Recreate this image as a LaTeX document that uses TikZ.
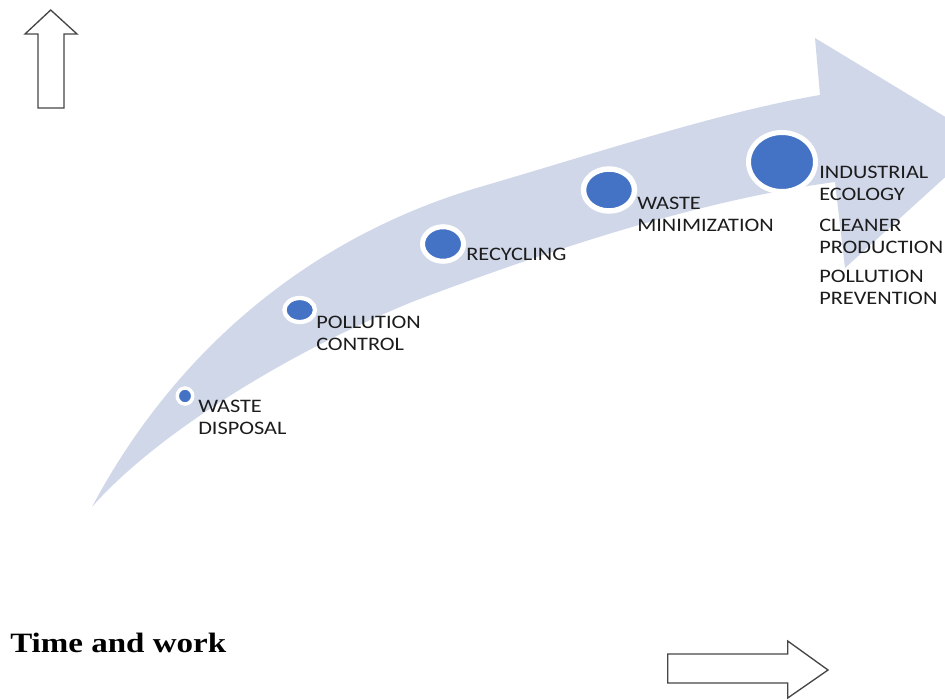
\documentclass[tikz,border=0pt]{standalone}
\usepackage{fontspec}
\usetikzlibrary{shapes.geometric}
\newfontfamily\labfont[FakeStretch=1.17]{Carlito}
\newfontfamily\titlefont[FakeStretch=1.18]{Liberation Serif}
\definecolor{band}{RGB}{208,215,233}
\definecolor{dotblue}{RGB}{68,114,196}
\definecolor{labtext}{RGB}{28,28,28}
\definecolor{outline}{RGB}{70,70,70}
\begin{document}
\begin{tikzpicture}[x=0.75pt,y=-0.75pt,
  dot/.style={ellipse, fill=dotblue, draw=white, inner sep=0pt},
  lab/.style={anchor=north west, inner sep=0pt, align=left, text=labtext,
              font=\labfont\fontsize{14.3}{16.5}\selectfont},
  hollow/.style={draw=outline, line width=1pt, fill=white, line join=miter}]
\useasboundingbox (0,0) rectangle (945,699);
\fill[white] (0,0) rectangle (945,699);
\begin{scope}
\clip (0,0) rectangle (945,699);
\fill[band] (92,507) .. controls (170,360) and (300,240) .. (480,187)
  .. controls (600,152) and (720,112) .. (820,95)
  -- (815,38) -- (985,141) -- (845,268) -- (835,182)
  .. controls (700,200) and (550,250) .. (417,300)
  .. controls (280,355) and (150,440) .. (92,507) -- cycle;
\end{scope}
% dots
\node[dot, minimum width=11.6pt, minimum height=12pt, line width=2.6pt] (wd) at (185,396) {};
\node[dot, minimum width=22.9pt, minimum height=18pt, line width=3.2pt] (pc) at (299.7,310) {};
\node[dot, minimum width=30.75pt, minimum height=25.9pt, line width=3.75pt] (rc) at (443,244) {};
\node[dot, minimum width=38.25pt, minimum height=31.5pt, line width=4.1pt] (wm) at (609,190) {};
\node[dot, minimum width=50.25pt, minimum height=44.25pt, line width=3.75pt] (ie) at (782,162) {};
% labels
\node[lab] (wdl) at (198,400) {WASTE\\DISPOSAL};
\node[lab] (pcl) at (316,316) {POLLUTION\\CONTROL};
\node[lab] (rcl) at (466,248) {RECYCLING};
\node[lab] (wml) at (637,197) {WASTE\\MINIMIZATION};
\node[lab] (iel) at (819,166) {INDUSTRIAL\\ECOLOGY};
\node[lab] (cpl) at (819,219) {CLEANER\\PRODUCTION};
\node[lab] (ppl) at (819,270) {POLLUTION\\PREVENTION};
% title
\node[anchor=base west, inner sep=0pt, font=\titlefont\bfseries\fontsize{21}{25}\selectfont] (tw) at (10,652) {Time and work};
% hollow arrows
\draw[hollow] (50.7,10) -- (77,34) -- (64,34) -- (64,108) -- (38,108) -- (38,34) -- (25,34) -- cycle;
\draw[hollow] (667.7,654) -- (787.7,654) -- (787.7,641) -- (828,670) -- (787.7,698) -- (787.7,683) -- (667.7,683) -- cycle;
\end{tikzpicture}
\end{document}
